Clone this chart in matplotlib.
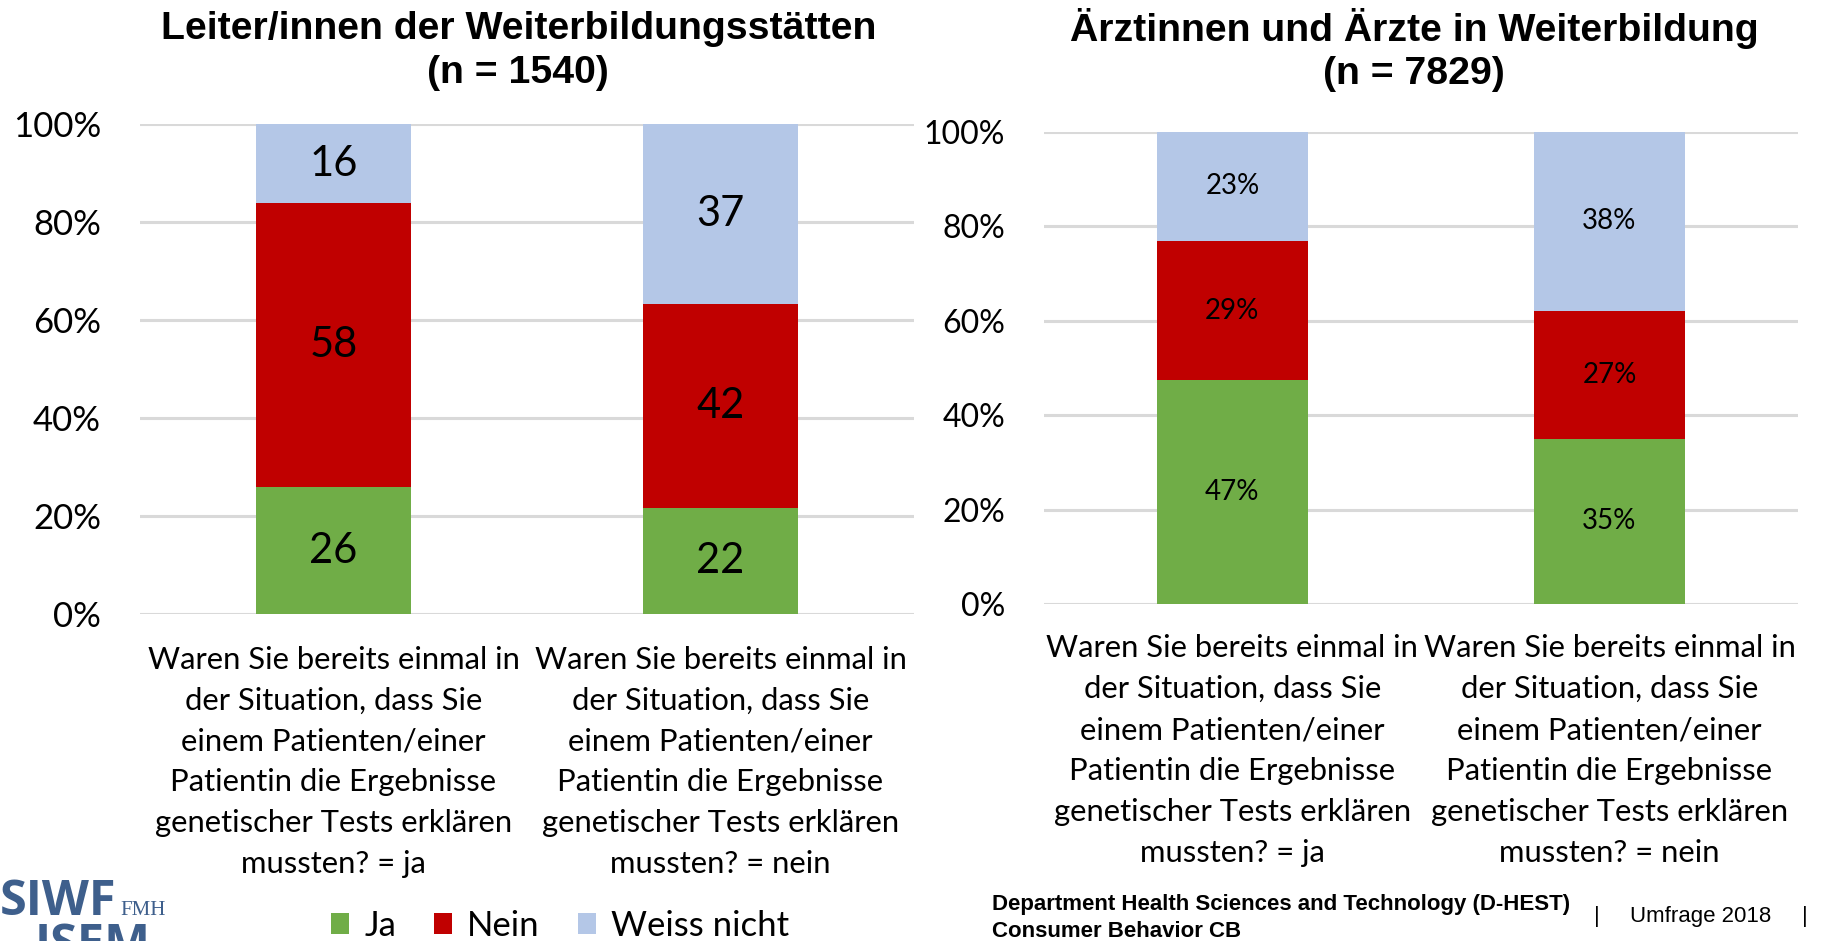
import numpy as np
import matplotlib.pyplot as plt
from matplotlib.patches import Patch
import matplotlib.transforms as mtrans

# data
series = ['Ja', 'Nein', 'Weiss nicht']
colors = ['#70AD47', '#C00000', '#B4C7E7']

question = ('Waren Sie bereits einmal in\nder Situation, dass Sie\neinem Patienten/einer\n'
            'Patientin die Ergebnisse\ngenetischer Tests erklären\nmussten? = ')
categories = [question + 'ja', question + 'nein']

left_title = 'Leiter/innen der Weiterbildungsstätten\n(n = 1540)'
left_vals = {'Ja': [26, 22], 'Nein': [58, 42], 'Weiss nicht': [16, 37]}

right_title = 'Ärztinnen und Ärzte in Weiterbildung\n(n = 7829)'
right_vals = {'Ja': [47, 35], 'Nein': [29, 27], 'Weiss nicht': [23, 38]}

yticks = [0, 20, 40, 60, 80, 100]

plt.rcParams['font.family'] = ['Lato', 'DejaVu Sans']

fig = plt.figure(figsize=(18.25, 9.41), dpi=100)
ax1 = fig.add_axes([0.0767, 0.347, 0.4241, 0.5207])
ax2 = fig.add_axes([0.572, 0.3581, 0.4132, 0.5021])


def stacked(ax, vals, label_fmt, label_size, tick_size, lab_y):
    x = np.arange(len(categories))
    tot = np.sum([vals[s] for s in series], axis=0)
    bottom = np.zeros(len(categories))
    for s, c in zip(series, colors):
        h = np.array(vals[s]) / tot * 100
        ax.bar(x, h, 0.4, bottom=bottom, color=c, zorder=3)
        for xi, b, hi, v in zip(x, bottom, h, vals[s]):
            ax.text(xi, b + hi / 2, label_fmt.format(v), ha='center', va='center',
                    fontsize=label_size, color='black', zorder=4)
        bottom += h
    ax.set_xlim(-0.5, 1.5)
    ax.set_ylim(0, 100)
    ax.set_yticks(yticks)
    ax.set_yticklabels([f'{t}%' for t in yticks], fontsize=tick_size)
    ax.yaxis.grid(True, color='#D9D9D9', lw=2.2, zorder=0)
    ax.set_xticks([])
    ax.tick_params(axis='y', length=0, pad=28)
    for sp in ax.spines.values():
        sp.set_visible(False)
    tr = mtrans.blended_transform_factory(ax.transData, ax.transAxes)
    for xi, cat in zip(x, categories):
        ax.text(xi, lab_y, cat, transform=tr, ha='center', va='top',
                fontsize=22.3, linespacing=1.56)


stacked(ax1, left_vals, '{}', 30, 25, -0.064)
stacked(ax2, right_vals, '{}%', 20, 23, -0.064)

title_font = dict(family=['Liberation Sans'], fontweight='bold',
                  fontsize=28.3, ha='center', va='top', linespacing=1.28)
fig.text(0.284, 0.988, left_title, **title_font)
fig.text(0.775, 0.992, right_title, **title_font)

# legend
handles = [Patch(facecolor=c, label=s) for s, c in zip(series, colors)]
fig.legend(handles=handles, loc='center', bbox_to_anchor=(0.307, 0.016), ncol=3,
           frameon=False, fontsize=25, handlelength=0.5, handleheight=0.55,
           handletextpad=0.45, columnspacing=1.1, borderpad=0)

# logo bits
logo = '#3E5F8C'
fig.text(0.0, 0.0276, 'SIWF', color=logo, fontsize=35, fontweight='bold',
         family='Open Sans', ha='left', va='baseline')
fig.text(0.066, 0.0276, 'FMH', color=logo, fontsize=15, family='Liberation Serif',
         ha='left', va='baseline')
fig.text(0.019, -0.019, 'ISEM', color=logo, fontsize=35, fontweight='bold',
         family='Open Sans', ha='left', va='baseline')

# footer
foot = dict(family=['Liberation Sans'], fontsize=16)
fig.text(0.5435, 0.039, 'Department Health Sciences and Technology (D-HEST)',
         fontweight='bold', ha='left', va='center', **foot)
fig.text(0.5435, 0.010, 'Consumer Behavior CB', fontweight='bold', ha='left', va='center', **foot)
fig.text(0.875, 0.026, '|', ha='center', va='center', **foot)
fig.text(0.893, 0.026, 'Umfrage 2018', ha='left', va='center', **foot)
fig.text(0.989, 0.026, '|', ha='center', va='center', **foot)

fig.savefig('out.png', dpi=100)
